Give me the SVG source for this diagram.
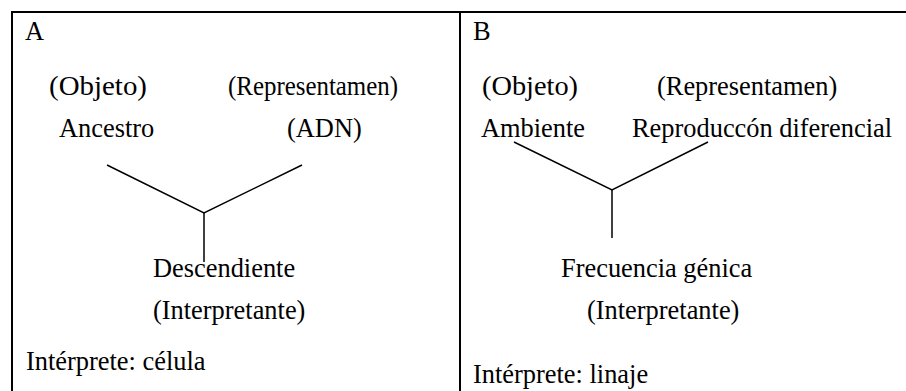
<svg xmlns="http://www.w3.org/2000/svg" width="906" height="391" viewBox="0 0 906 391">
<style>
text{font-family:"Liberation Serif","Times New Roman","DejaVu Serif",serif;font-size:26.4px;fill:#000}
.frame{stroke:#000;stroke-width:2;fill:none}
.conn{stroke:#000;stroke-width:1.5;fill:none}
</style>
<rect width="906" height="391" fill="#fff"/>
<g id="frame">
<line class="frame" x1="11" y1="12" x2="906" y2="12"/>
<line class="frame" x1="12" y1="11" x2="12" y2="391"/>
<line class="frame" x1="460" y1="12" x2="460" y2="391"/>
</g>
<g id="panelA">
<text x="25" y="40">A</text>
<g id="A-objeto"><text x="49" y="95" textLength="98" lengthAdjust="spacingAndGlyphs">(Objeto)</text><text x="59" y="137">Ancestro</text></g>
<g id="A-representamen"><text x="228" y="95" textLength="170" lengthAdjust="spacingAndGlyphs">(Representamen)</text><text x="287" y="137">(ADN)</text></g>
<g id="A-interpretante"><text x="153" y="277">Descendiente</text><text x="153" y="319">(Interpretante)</text></g>
<text x="26" y="370">Intérprete: célula</text>
</g>
<g id="panelB">
<text x="473" y="40">B</text>
<g id="B-objeto"><text x="482" y="95" textLength="96" lengthAdjust="spacingAndGlyphs">(Objeto)</text><text x="481" y="137">Ambiente</text></g>
<g id="B-representamen"><text x="657" y="95">(Representamen)</text><text x="632" y="137">Reproduccón diferencial</text></g>
<g id="B-interpretante"><text x="561" y="277">Frecuencia génica</text><text x="587" y="319">(Interpretante)</text></g>
<text x="473" y="383">Intérprete: linaje</text>
</g>
<g id="connectors">
<polyline class="conn" points="107,165 204,213 302,165"/>
<line class="conn" x1="204" y1="213" x2="204" y2="262"/>
<polyline class="conn" points="514,142 612,190 708,142"/>
<line class="conn" x1="612" y1="190" x2="612" y2="238"/>
</g>
</svg>
